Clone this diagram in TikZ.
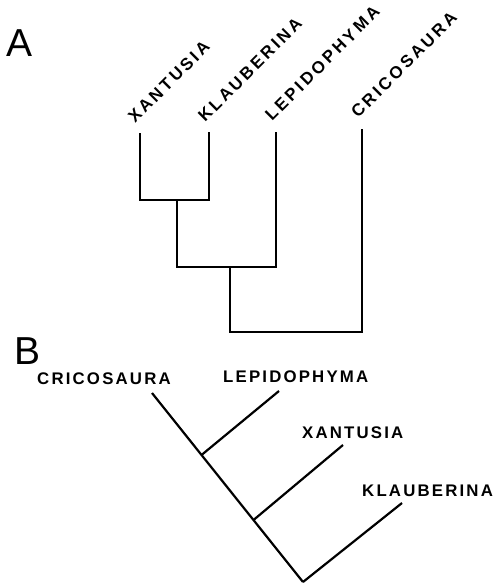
\documentclass[tikz,border=0pt]{standalone}
\usepackage{fontspec}
\setmainfont{Liberation Sans}
\newfontfamily\taxonfont[LetterSpace=13,Scale=1.68]{Liberation Sans}
\newfontfamily\diagfont[LetterSpace=17,Scale=1.7]{Liberation Sans}

\begin{document}
\begin{tikzpicture}[x=1pt,y=-1pt,
  painel/.style={inner sep=0pt,anchor=base west,font=\fontsize{39}{40}\selectfont},
  taxon/.style={inner sep=0pt,anchor=base west,font=\taxonfont\bfseries},
  diagonal/.style={taxon,rotate=45,font=\diagfont\bfseries},
  ramoA/.style={line width=2.6pt,line join=miter},
  ramoB/.style={line width=2.2pt,line cap=butt}
]
\useasboundingbox (0,0) rectangle (497,583);

\node[painel] (rotA) at (6,57) {A};
\node[diagonal] (xanA) at (135,124) {XANTUSIA};
\node[diagonal] (klaA) at (205,123) {KLAUBERINA};
\node[diagonal] (lepA) at (272,122) {LEPIDOPHYMA};
\node[diagonal] (criA) at (358,119) {CRICOSAURA};
\coordinate (tXan) at (140,133);
\coordinate (tKla) at (209,132);
\coordinate (tLep) at (276,132);
\coordinate (tCri) at (362,129);
\coordinate (n1) at (177,200);
\coordinate (n2) at (230,267);
\coordinate (n3) at (296,332);
\draw[ramoA] (tXan) |- (n1) -| (tKla);
\draw[ramoA] (n1) |- (n2) -| (tLep);
\draw[ramoA] (n2) |- (n3) -| (tCri);

\node[painel] (rotB) at (14,364) {B};
\node[taxon] (criB) at (37,384) {CRICOSAURA};
\node[taxon] (lepB) at (223,382) {LEPIDOPHYMA};
\node[taxon] (xanB) at (302,438) {XANTUSIA};
\node[taxon] (klaB) at (362,496) {KLAUBERINA};
\coordinate (bCri) at (152,393);
\coordinate (bLep) at (279,391);
\coordinate (bXan) at (343,445);
\coordinate (bKla) at (402,503);
\coordinate (m1) at (201.5,455);
\coordinate (m2) at (253.5,520);
\coordinate (raiz) at (303,582);
\draw[ramoB] (bCri) -- (raiz);
\draw[ramoB] (bLep) -- (m1);
\draw[ramoB] (bXan) -- (m2);
\draw[ramoB] (bKla) -- (raiz);
\end{tikzpicture}
\end{document}
